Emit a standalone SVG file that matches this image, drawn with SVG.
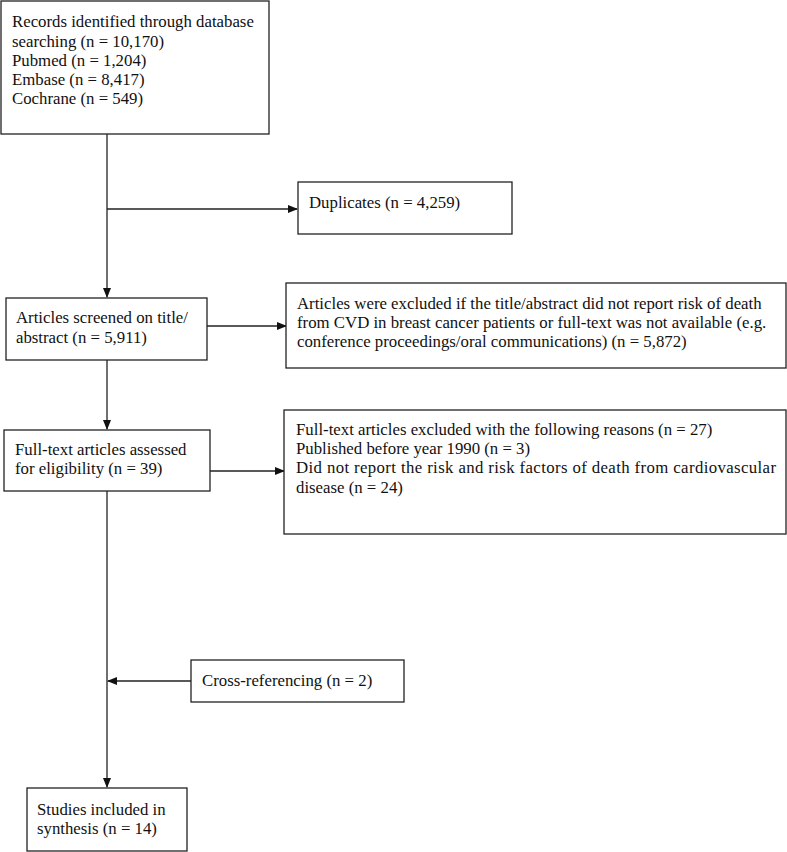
<svg xmlns="http://www.w3.org/2000/svg" width="787" height="852" viewBox="0 0 787 852">
<style>
.box{fill:#fff;stroke:#222;stroke-width:1.3}
.t{font-family:'Liberation Serif','Times New Roman','DejaVu Serif',serif;font-size:16.8px;fill:#111}
.c{fill:none;stroke:#222;stroke-width:1.3}
</style>
<defs>
<marker id="ah" markerWidth="10" markerHeight="8" refX="9" refY="4" orient="auto" markerUnits="userSpaceOnUse">
<path d="M0,0 L10,4 L0,8 Z" fill="#111"/>
</marker>
</defs>
<rect width="787" height="852" fill="#fff"/>
<g id="connectors">
<line class="c" x1="107" y1="134" x2="107" y2="297" marker-end="url(#ah)"/>
<line class="c" x1="107" y1="209" x2="297" y2="209" marker-end="url(#ah)"/>
<line class="c" x1="207" y1="326" x2="286" y2="326" marker-end="url(#ah)"/>
<line class="c" x1="107" y1="360" x2="107" y2="429" marker-end="url(#ah)"/>
<line class="c" x1="210" y1="471" x2="284" y2="471" marker-end="url(#ah)"/>
<line class="c" x1="107" y1="491" x2="107" y2="787" marker-end="url(#ah)"/>
<line class="c" x1="191" y1="681" x2="108" y2="681" marker-end="url(#ah)"/>
</g>
<g id="records">
<rect class="box" x="1" y="1" width="268" height="133"/>
<text class="t" x="12" y="27">Records identified through database</text>
<text class="t" x="12" y="47">searching (n = 10,170)</text>
<text class="t" x="12" y="66">Pubmed (n = 1,204)</text>
<text class="t" x="12" y="85">Embase (n = 8,417)</text>
<text class="t" x="12" y="104">Cochrane (n = 549)</text>
</g>
<g id="duplicates">
<rect class="box" x="298" y="182" width="214" height="52"/>
<text class="t" x="309" y="208">Duplicates (n = 4,259)</text>
</g>
<g id="screened">
<rect class="box" x="6" y="298" width="201" height="62"/>
<text class="t" x="16" y="323">Articles screened on title/</text>
<text class="t" x="16" y="343">abstract (n = 5,911)</text>
</g>
<g id="excluded1">
<rect class="box" x="286" y="283" width="500" height="85"/>
<text class="t" x="297" y="309">Articles were excluded if the title/abstract did not report risk of death</text>
<text class="t" x="297" y="328">from CVD in breast cancer patients or full-text was not available (e.g.</text>
<text class="t" x="297" y="347">conference proceedings/oral communications) (n = 5,872)</text>
</g>
<g id="fulltext">
<rect class="box" x="4" y="430" width="206" height="61"/>
<text class="t" x="15" y="455">Full-text articles assessed</text>
<text class="t" x="15" y="474">for eligibility (n = 39)</text>
</g>
<g id="excluded2">
<rect class="box" x="284" y="410" width="502" height="124"/>
<text class="t" x="296" y="435">Full-text articles excluded with the following reasons (n = 27)</text>
<text class="t" x="296" y="454">Published before year 1990 (n = 3)</text>
<text class="t" x="296" y="473" textLength="480" lengthAdjust="spacing">Did not report the risk and risk factors of death from cardiovascular</text>
<text class="t" x="296" y="493">disease (n = 24)</text>
</g>
<g id="crossref">
<rect class="box" x="191" y="660" width="213" height="42"/>
<text class="t" x="202" y="686">Cross-referencing (n = 2)</text>
</g>
<g id="included">
<rect class="box" x="27" y="788" width="160" height="63"/>
<text class="t" x="37" y="815">Studies included in</text>
<text class="t" x="37" y="834">synthesis (n = 14)</text>
</g>
</svg>
